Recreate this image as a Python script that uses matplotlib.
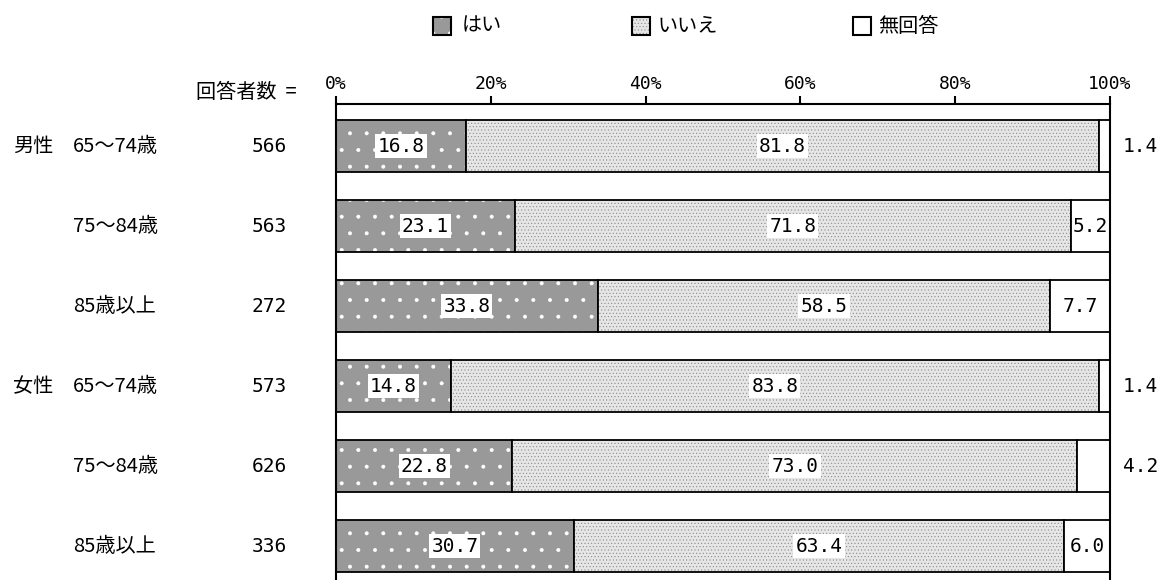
import matplotlib.pyplot as plt
from matplotlib.patches import Rectangle
from matplotlib.transforms import blended_transform_factory

plt.rcParams['font.family'] = ['Noto Sans CJK JP', 'DejaVu Sans']
plt.rcParams['hatch.linewidth'] = 0.4

# data
groups = ['男性', '', '', '女性', '', '']
ages = ['65～74歳', '75～84歳', '85歳以上', '65～74歳', '75～84歳', '85歳以上']
counts = [566, 563, 272, 573, 626, 336]
yes = [16.8, 23.1, 33.8, 14.8, 22.8, 30.7]
no = [81.8, 71.8, 58.5, 83.8, 73.0, 63.4]
na = [1.4, 5.2, 7.7, 1.4, 4.2, 6.0]
series = ['はい', 'いいえ', '無回答']
ticks = [0, 20, 40, 60, 80, 100]

W, H = 1159, 580
fig = plt.figure(figsize=(W / 100, H / 100), dpi=100)
ax = fig.add_axes([336 / W, 0, 774 / W, 476 / H])

rows = list(range(len(ages)))
bh = 0.65

# face + hatch styles for each series (face, hatch colour, hatch)
styles = [('#999999', 'white', '.'),
          ('#e6e6e6', '#8a8a8a', '.....'),
          ('white', 'white', '')]

lefts = [0] * len(rows)
for vals, (fc, hc, hatch) in zip([yes, no, na], styles):
    ax.barh(rows, vals, left=lefts, height=bh, color=fc, edgecolor=hc,
            hatch=hatch, linewidth=0)
    ax.barh(rows, vals, left=lefts, height=bh, fill=False,
            edgecolor='black', linewidth=1.3)
    lefts = [l + v for l, v in zip(lefts, vals)]

box = dict(facecolor='white', edgecolor='none', pad=1.5)
mono = 'DejaVu Sans Mono'
for i in rows:
    ax.text(yes[i] / 2, i, f'{yes[i]:.1f}', ha='center', va='center',
            family=mono, fontsize=14, bbox=box)
    ax.text(yes[i] + no[i] / 2, i, f'{no[i]:.1f}', ha='center', va='center',
            family=mono, fontsize=14, bbox=box)
    if na[i] >= 5:
        x = yes[i] + no[i] + na[i] / 2
    else:
        x = 103.9
    ax.text(x, i, f'{na[i]:.1f}', ha='center', va='center',
            family=mono, fontsize=14, clip_on=False)

ax.set_xlim(0, 100)
ax.set_ylim(5.425, -0.525)
ax.xaxis.tick_top()
ax.set_xticks(ticks)
ax.set_xticklabels([f'{t}%' for t in ticks], family=mono, fontsize=13)
ax.tick_params(axis='x', direction='out', length=6, width=1.5, pad=2)
ax.set_yticks([])
ax.spines['bottom'].set_visible(False)
for s in ['left', 'right', 'top']:
    ax.spines[s].set_linewidth(1.5)

# left side labels
trans = blended_transform_factory(fig.transFigure, ax.transData)
for i in rows:
    ax.text(13 / W, i, groups[i], transform=trans, ha='left', va='center',
            fontsize=14.5)
    ax.text(73 / W, i, ages[i], transform=trans, ha='left', va='center',
            fontsize=14.5)
    ax.text(269 / W, i, str(counts[i]), transform=trans, ha='center',
            va='center', family=mono, fontsize=14)
fig.text(297 / W, 1 - 92 / H, '回答者数  =', ha='right', va='center',
         fontsize=14.5)

# legend drawn by hand
sq = 18
leg_x = [433, 632, 853]
txt_x = [462, 658, 878]
for k, (fc, hc, hatch) in enumerate(styles):
    rect = (leg_x[k] / W, 1 - 35 / H)
    fig.add_artist(Rectangle(rect, sq / W, sq / H, transform=fig.transFigure,
                             facecolor=fc, edgecolor=hc, hatch=hatch,
                             linewidth=0))
    fig.add_artist(Rectangle(rect, sq / W, sq / H, transform=fig.transFigure,
                             fill=False, edgecolor='black', linewidth=1.5))
    fig.text(txt_x[k] / W, 1 - 26 / H, series[k], ha='left', va='center',
             fontsize=14.5)

fig.savefig('out.png', dpi=100)
